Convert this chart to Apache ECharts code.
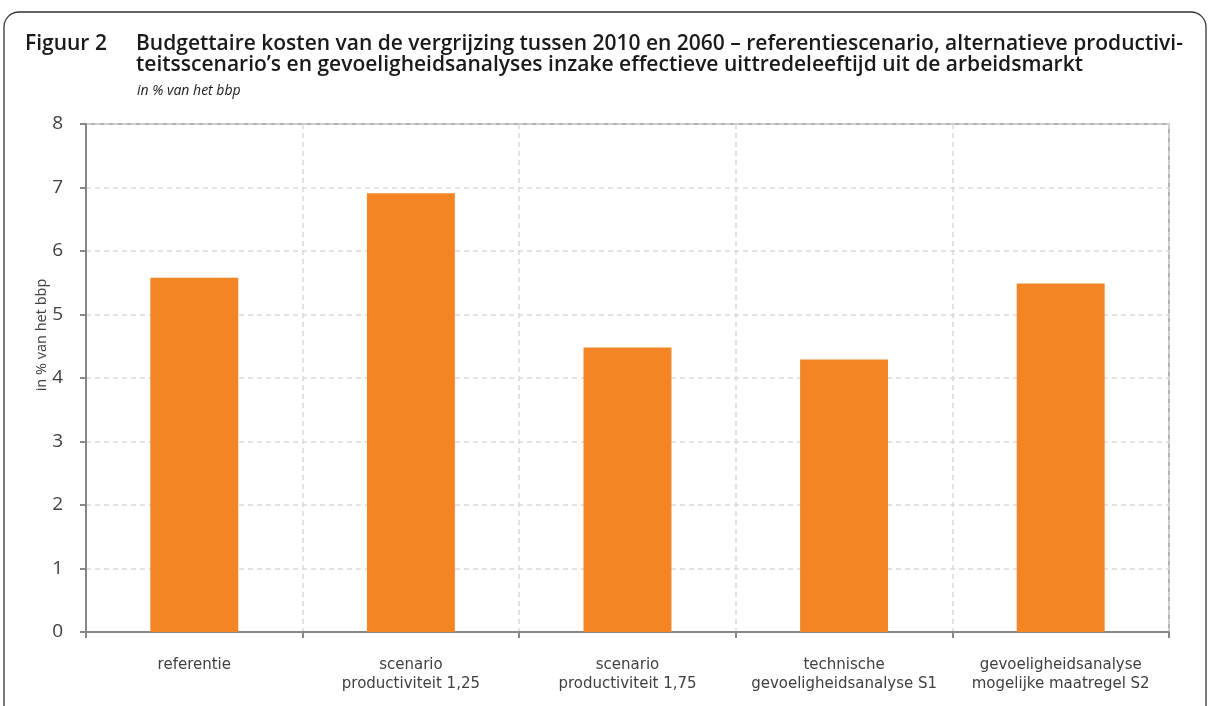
<!DOCTYPE html>
<html>
<head>
<meta charset="utf-8">
<script src="https://cdn.jsdelivr.net/npm/echarts@6/dist/echarts.min.js"></script>
<style>
html,body{margin:0;padding:0;background:#fff;}
#c{width:1209px;height:706px;}
</style>
</head>
<body>
<div id="c"></div>
<script>
const categories = [
  "referentie",
  "scenario\nproductiviteit 1,25",
  "scenario\nproductiviteit 1,75",
  "technische\ngevoeligheidsanalyse S1",
  "gevoeligheidsanalyse\nmogelijke maatregel S2"
];
const values = [5.58, 6.91, 4.48, 4.29, 5.49];
const yTicks = [0, 1, 2, 3, 4, 5, 6, 7, 8];
const figLabel = "Figuur 2";
const titleText = "Budgettaire kosten van de vergrijzing tussen 2010 en 2060 – referentiescenario, alternatieve productivi-\nteitsscenario’s en gevoeligheidsanalyses inzake effectieve uittredeleeftijd uit de arbeidsmarkt";
const subtitleText = "in % van het bbp";
const yName = "in % van het bbp";

const chart = echarts.init(document.getElementById('c'), null, {renderer: 'canvas'});
const FONT = "'Open Sans', 'Noto Sans', sans-serif";
const LFONT = "'DejaVu Sans', sans-serif";
chart.setOption({
  animation: false,
  backgroundColor: '#ffffff',
  title: [
    {text: figLabel, left: 20, top: 29,
     textStyle: {fontFamily: FONT, fontSize: 21, fontWeight: 600, color: '#1a1a1a', lineHeight: 21}},
    {text: titleText, left: 131, top: 29,
     textStyle: {fontFamily: FONT, fontSize: 21, fontWeight: 600, color: '#1a1a1a', lineHeight: 21}},
    {text: subtitleText, left: 132, top: 79,
     textStyle: {fontFamily: FONT, fontSize: 14, fontWeight: 'normal', fontStyle: 'italic', color: '#1a1a1a'}}
  ],
  graphic: [
    {type: 'rect', shape: {x: 4, y: 12, width: 1202, height: 740, r: 15},
     style: {fill: 'none', stroke: '#333333', lineWidth: 1.3}, silent: true},
    {type: 'text', x: 42, y: 335, rotation: Math.PI / 2,
     style: {text: yName, fontFamily: FONT, fontSize: 14.5, fill: '#404040', align: 'center', verticalAlign: 'middle'}}
  ],
  grid: {left: 86, right: 40, top: 124, bottom: 74, show: true, borderColor: '#9a9a9a', borderWidth: 1.5, backgroundColor: 'transparent'},
  xAxis: {
    type: 'category',
    data: categories,
    boundaryGap: true,
    axisLine: {lineStyle: {color: '#878787', width: 2}},
    axisTick: {show: true, length: 6, lineStyle: {color: '#878787', width: 2}},
    axisLabel: {fontFamily: LFONT, fontSize: 15, color: '#404040', lineHeight: 19, margin: 24, interval: 0},
    splitLine: {show: true, lineStyle: {color: '#d9d9d9', type: [5, 4], width: 1.5}}
  },
  yAxis: {
    type: 'value',
    min: 0, max: 8, interval: 1,
    axisLine: {show: true, lineStyle: {color: '#878787', width: 2}},
    axisTick: {show: true, length: 6, lineStyle: {color: '#878787', width: 2}},
    axisLabel: {fontFamily: FONT, fontSize: 19, color: '#404040', margin: 23,
      formatter: v => yTicks.includes(v) ? String(v) : ''},
    splitLine: {show: true, lineStyle: {color: '#d9d9d9', type: [5, 4], width: 1.5}}
  },
  series: [{
    type: 'bar',
    data: values,
    barWidth: '40.6%',
    itemStyle: {color: '#f38524'}
  }]
});
</script>
</body>
</html>
